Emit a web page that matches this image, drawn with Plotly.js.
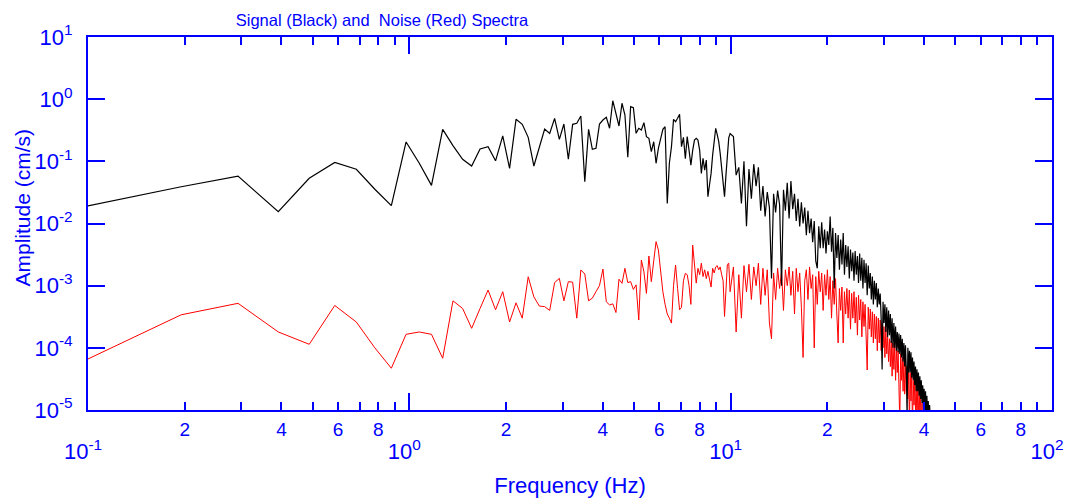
<!DOCTYPE html>
<html>
<head>
<meta charset="utf-8">
<script src="https://cdn.plot.ly/plotly-3.0.1.min.js"></script>
<style>
  html, body { margin: 0; padding: 0; background: #ffffff; }
  #chart { width: 1073px; height: 501px; }
</style>
</head>
<body>
<div id="chart"></div>
<script>
// ---- Data ----
const freqHz = [
  0.098, 0.195, 0.293, 0.391, 0.488, 0.586, 0.684, 0.781, 0.879, 0.977,
  1.074, 1.172, 1.270, 1.367, 1.465, 1.563, 1.660, 1.758, 1.855, 1.953,
  2.051, 2.148, 2.246, 2.344, 2.441, 2.539, 2.637, 2.734, 2.832, 2.930,
  3.027, 3.125, 3.223, 3.320, 3.418, 3.516, 3.613, 3.711, 3.809, 3.906,
  4.004, 4.102, 4.199, 4.297, 4.395, 4.492, 4.590, 4.688, 4.785, 4.883,
  4.980, 5.078, 5.176, 5.273, 5.371, 5.469, 5.566, 5.664, 5.762, 5.859,
  5.957, 6.055, 6.152, 6.250, 6.348, 6.445, 6.543, 6.641, 6.738, 6.836,
  6.934, 7.031, 7.129, 7.227, 7.324, 7.422, 7.520, 7.617, 7.715, 7.813,
  7.910, 8.008, 8.105, 8.203, 8.301, 8.398, 8.496, 8.594, 8.691, 8.789,
  8.887, 8.984, 9.082, 9.180, 9.277, 9.375, 9.473, 9.570, 9.668, 9.766,
  9.863, 9.961,
  10.2, 10.4, 10.6, 10.8, 11.0, 11.2, 11.4, 11.6, 11.8, 12.0,
  12.2, 12.4, 12.6, 12.8, 13.0, 13.2, 13.4, 13.6, 13.8, 14.0,
  14.2, 14.4, 14.6, 14.8, 15.0, 15.2, 15.4, 15.6, 15.8, 16.0,
  16.2, 16.4, 16.6, 16.8, 17.0, 17.2, 17.4, 17.6, 17.8, 18.0,
  18.2, 18.4, 18.6, 18.8, 19.0, 19.2, 19.4, 19.6, 19.8, 20.0,
  20.2, 20.4, 20.6, 20.8, 21.0, 21.2, 21.4, 21.6, 21.8, 22.0,
  22.2, 22.4, 22.6, 22.8, 23.0, 23.2, 23.4, 23.6, 23.8, 24.0,
  24.2, 24.4, 24.6, 24.8, 25.0, 25.2, 25.4, 25.6, 25.8, 26.0,
  26.2, 26.4, 26.6, 26.8, 27.0, 27.2, 27.4, 27.6, 27.8, 28.0,
  28.2, 28.4, 28.6, 28.8, 29.0, 29.2, 29.4, 29.6, 29.8, 30.0,
  30.2, 30.4, 30.6, 30.8, 31.0, 31.2, 31.4, 31.6, 31.8, 32.0,
  32.2, 32.4, 32.6, 32.8, 33.0, 33.2, 33.4, 33.6, 33.8, 34.0,
  34.2, 34.4, 34.6, 34.8, 35.0, 35.2, 35.4, 35.6, 35.8, 36.0,
  36.2, 36.4, 36.6, 36.8, 37.0, 37.2, 37.4, 37.6, 37.8, 38.0,
  38.2, 38.4, 38.6, 38.8, 39.0, 39.2, 39.4, 39.6, 39.8, 40.0,
  40.2, 40.4, 40.6, 40.8, 41.0, 41.2, 41.4, 41.6, 41.8, 42.0
];

const signalAmp = [
  0.0188, 0.039, 0.058, 0.0155, 0.0533, 0.096, 0.0745, 0.0356, 0.0194, 0.205,
  0.093, 0.041, 0.327, 0.179, 0.108, 0.084, 0.158, 0.172, 0.102, 0.256,
  0.077, 0.474, 0.394, 0.243, 0.084, 0.172, 0.331, 0.282, 0.492, 0.226,
  0.398, 0.108, 0.394, 0.409, 0.536, 0.047, 0.327, 0.156, 0.162, 0.398,
  0.462, 0.51, 0.34, 0.944, 0.556, 0.37, 0.859, 0.556, 0.116, 0.758,
  0.73, 0.282, 0.34, 0.319, 0.419, 0.249, 0.234, 0.143, 0.207, 0.093,
  0.162, 0.226, 0.327, 0.36, 0.021, 0.093, 0.172, 0.474, 0.434, 0.492,
  0.571, 0.172, 0.243, 0.11, 0.25, 0.15, 0.087, 0.15, 0.22, 0.234,
  0.22, 0.15, 0.064, 0.112, 0.072, 0.105, 0.027, 0.042, 0.064, 0.127,
  0.22, 0.34, 0.27, 0.207, 0.134, 0.072, 0.042, 0.027, 0.06, 0.15,
  0.238, 0.28,
  0.25, 0.06, 0.08, 0.021, 0.1,
  0.009, 0.075, 0.025, 0.09, 0.04,
  0.08, 0.016, 0.04, 0.013, 0.032,
  0.018, 0.0013, 0.03, 0.015, 0.034,
  0.02, 0.001, 0.035, 0.016, 0.045,
  0.012, 0.048, 0.017, 0.03, 0.011,
  0.025, 0.009, 0.022, 0.01, 0.018,
  0.0065, 0.016, 0.007, 0.012, 0.005,
  0.011, 0.0025, 0.0019, 0.009, 0.004,
  0.0105, 0.004, 0.008, 0.0033, 0.0075,
  0.0045, 0.013, 0.0035, 0.0085, 0.0009,
  0.007, 0.0028, 0.0065, 0.0018, 0.0055,
  0.0022, 0.007, 0.0015, 0.0045, 0.002,
  0.0043, 0.0013, 0.0038, 0.0017, 0.0034,
  0.0012, 0.0036, 0.0015, 0.003, 0.0011,
  0.0033, 0.0012, 0.0028, 0.0009, 0.0026,
  0.0011, 0.0023, 0.0007, 0.0021, 0.0009,
  0.0016, 0.0006, 0.0014, 0.0005, 0.0012,
  0.0006, 0.0011, 0.00045, 0.0009, 0.0005,
  0.00075, 0.0003, 0.000045, 0.00055, 0.00025,
  0.0005, 0.00018, 0.00045, 0.00015, 0.0004,
  0.00016, 0.00035, 0.00012, 0.0003, 0.0001,
  0.00025, 0.0001, 0.00022, 0.00009, 0.00018,
  0.000085, 0.00017, 0.00008, 0.00016, 0.00007,
  0.00014, 0.00006, 0.00012, 0.00005, 0.00011,
  0.000045, 0.000008, 0.0001, 0.00004, 0.00009,
  0.00004, 0.000085, 0.000033, 0.00007, 0.00003,
  0.00006, 0.000025, 0.00005, 0.00002, 0.000045,
  0.00002, 0.00004, 0.000017, 0.000035, 0.000015,
  0.00003, 0.000013, 0.000025, 0.000011, 0.000022,
  0.000009, 0.00002, 0.000008, 0.000017, 0.000007,
  0.000014, 0.000006, 0.000012, 0.000005, 0.000004
];

const noiseAmp = [
  6.3e-5, 3.4e-4, 5.2e-4, 1.8e-4, 1.14e-4, 4.8e-4, 2.6e-4, 1.0e-4, 4.7e-5, 1.65e-4,
  1.8e-4, 1.65e-4, 6.8e-5, 5.7e-4, 4.3e-4, 2.06e-4, 4.3e-4, 8.5e-4, 4.1e-4, 8.0e-4,
  2.6e-4, 5.3e-4, 3.0e-4, 1.39e-3, 6.6e-4, 4.7e-4, 4.6e-4, 4.0e-4, 1.12e-3, 1.31e-3,
  5.7e-4, 1.16e-3, 1.14e-3, 3.0e-4, 1.79e-3, 1.54e-3, 5.7e-4, 6.3e-4, 8.0e-4, 1.0e-3,
  1.85e-3, 5.5e-4, 4.9e-4, 5.1e-4, 3.7e-4, 1.27e-3, 1.09e-3, 1.9e-3, 1.12e-3, 1.16e-3,
  8.7e-4, 1.03e-3, 2.8e-4, 2.59e-3, 1.68e-3, 7.5e-4, 3.0e-3, 1.16e-3, 2.5e-3, 5.1e-3,
  3.75e-3, 1.5e-3, 8.0e-4, 5.0e-4, 3.5e-4, 3.0e-4, 2.5e-4, 1.0e-3, 2.15e-3, 9.0e-4,
  4.1e-4, 4.5e-4, 1.2e-3, 1.58e-3, 1.5e-3, 1.0e-3, 5.0e-4, 4.5e-3, 2.0e-3, 1.1e-3,
  1.9e-3, 1.5e-3, 2.3e-3, 1.4e-3, 1.8e-3, 1.3e-3, 1.7e-3, 1.2e-3, 9.5e-4, 1.9e-3,
  1.6e-3, 2.0e-3, 2.1e-3, 1.8e-3, 2.0e-3, 1.5e-3, 1.2e-3, 3.2e-4, 1.0e-3, 2.2e-3,
  2.3e-3, 8.0e-4,
  2.0e-3, 1.8e-4, 1.5e-3, 3.0e-4, 2.1e-3,
  8.0e-4, 2.2e-3, 6.0e-4, 2.0e-3, 1.0e-3,
  2.3e-3, 5.0e-4, 1.9e-3, 7.0e-4, 1.8e-3,
  2.5e-4, 1.4e-4, 1.6e-3, 6.0e-4, 1.9e-3,
  9.0e-4, 1.7e-3, 4.0e-4, 1.8e-3, 1.0e-3,
  2.0e-3, 7.0e-4, 1.7e-3, 3.5e-4, 1.9e-3,
  8.0e-4, 1.6e-3, 4.5e-4, 7.0e-5, 1.2e-3,
  1.8e-3, 6.0e-4, 2.0e-3, 9.0e-4, 1.5e-3,
  1.0e-4, 1.4e-3, 5.0e-4, 1.7e-3, 8.0e-4,
  1.6e-3, 4.0e-4, 1.5e-3, 7.0e-4, 1.8e-3,
  6.0e-4, 1.4e-3, 3.0e-4, 1.2e-3, 5.0e-4,
  1.3e-3, 3.5e-4, 1.2e-4, 9.0e-4, 4.0e-4,
  9.5e-4, 1.2e-4, 8.0e-4, 3.5e-4, 9.0e-4,
  3.0e-4, 8.5e-4, 2.0e-4, 7.5e-4, 3.0e-4,
  8.0e-4, 2.5e-4, 6.5e-4, 1.6e-4, 7.0e-4,
  2.8e-4, 6.0e-4, 1.5e-4, 5.5e-4, 2.2e-4,
  5.0e-4, 1.8e-4, 4.4e-5, 4.5e-4, 2.0e-4,
  4.2e-4, 1.5e-4, 3.8e-4, 1.2e-4, 3.5e-4,
  1.4e-4, 3.2e-4, 9.0e-5, 3.0e-4, 1.2e-4,
  2.8e-4, 9.0e-5, 2.5e-4, 1.0e-4, 2.2e-4,
  7.0e-5, 2.0e-4, 8.0e-5, 1.5e-4, 6.0e-5,
  1.4e-4, 5.0e-5, 1.3e-4, 3.5e-5, 1.2e-4,
  4.5e-5, 1.1e-4, 3.0e-5, 1.0e-4, 4.0e-5,
  9.0e-5, 2.5e-5, 6.0e-6, 8.0e-5, 3.0e-5,
  7.0e-5, 2.0e-5, 6.0e-5, 1.8e-5, 5.5e-5,
  2.0e-5, 5.0e-5, 1.5e-5, 4.5e-5, 6.0e-6,
  4.0e-5, 1.4e-5, 3.5e-5, 5.0e-6, 3.0e-5,
  1.2e-5, 2.8e-5, 1.0e-5, 2.5e-5, 6.0e-6,
  2.2e-5, 8.0e-6, 2.0e-5, 9.0e-6, 1.6e-5,
  6.0e-6, 1.3e-5, 5.0e-6, 1.1e-5, 4.0e-6
];

const xDecadeVals = [0.1, 1, 10, 100];
const xDecadeText = ['10<sup>-1</sup>', '10<sup>0</sup>', '10<sup>1</sup>', '10<sup>2</sup>'];
const xMinorVals = [0.2, 0.3, 0.4, 0.5, 0.6, 0.7, 0.8, 0.9,
                    2, 3, 4, 5, 6, 7, 8, 9,
                    20, 30, 40, 50, 60, 70, 80, 90];
const xMinorLabelVals = [0.2, 0.4, 0.6, 0.8, 2, 4, 6, 8, 20, 40, 60, 80];
const xMinorLabelText = ['2', '4', '6', '8', '2', '4', '6', '8', '2', '4', '6', '8'];
const yTickVals = [1e-5, 1e-4, 1e-3, 1e-2, 1e-1, 1, 10];
const yTickText = ['10<sup>-5</sup>', '10<sup>-4</sup>', '10<sup>-3</sup>', '10<sup>-2</sup>',
                   '10<sup>-1</sup>', '10<sup>0</sup>', '10<sup>1</sup>'];

const chartTitle = 'Signal (Black) and\u00a0 Noise (Red) Spectra';
const xTitle = 'Frequency (Hz)';
const yTitle = 'Amplitude (cm/s)';

// ---- Drawing ----
const BLUE = '#0000ff';
const W = 1073, H = 501;
const M = {l: 88, r: 21, t: 37, b: 91};

const traces = [
  {
    x: freqHz.slice(0, noiseAmp.length), y: noiseAmp,
    type: 'scatter', mode: 'lines', xaxis: 'x', yaxis: 'y',
    line: {color: '#ff0000', width: 1},
    hoverinfo: 'skip'
  },
  {
    x: freqHz, y: signalAmp,
    type: 'scatter', mode: 'lines', xaxis: 'x2', yaxis: 'y',
    line: {color: '#000000', width: 1.2},
    hoverinfo: 'skip'
  }
];

const sansFont = 'Liberation Sans, Arial, Helvetica, sans-serif';

const layout = {
  width: W, height: H,
  margin: M,
  paper_bgcolor: '#ffffff',
  plot_bgcolor: '#ffffff',
  showlegend: false,
  font: {family: sansFont, color: BLUE, size: 18},
  title: {
    text: chartTitle,
    xref: 'container', yref: 'container',
    x: 382 / W, xanchor: 'center',
    y: 1 - 20 / H, yanchor: 'middle',
    font: {family: sansFont, size: 16.5, color: BLUE}
  },
  xaxis: {
    type: 'log', range: [-1, 2], autorange: false,
    tickmode: 'array', tickvals: xDecadeVals, ticktext: xDecadeText,
    ticks: 'inside', ticklen: 17, tickwidth: 2, tickcolor: BLUE,
    showline: true, linecolor: BLUE, linewidth: 2, mirror: 'ticks',
    showgrid: false, zeroline: false,
    tickfont: {family: sansFont, size: 22, color: BLUE},
    ticklabelstandoff: 21, ticklabelshift: -5,
    minor: {tickmode: 'array', tickvals: xMinorVals, ticks: 'inside',
            ticklen: 8, tickwidth: 2, tickcolor: BLUE, showgrid: false},
    title: {text: xTitle, font: {family: sansFont, size: 22, color: BLUE}, standoff: 14},
    automargin: false
  },
  xaxis2: {
    type: 'log', range: [-1, 2], autorange: false,
    overlaying: 'x', anchor: 'y', side: 'bottom',
    tickmode: 'array', tickvals: xMinorLabelVals, ticktext: xMinorLabelText,
    ticks: '', showline: false, showgrid: false, zeroline: false,
    tickfont: {family: sansFont, size: 19, color: BLUE},
    ticklabelstandoff: 6,
    automargin: false
  },
  yaxis: {
    type: 'log', range: [-5, 1], autorange: false,
    tickmode: 'array', tickvals: yTickVals, ticktext: yTickText,
    ticks: 'inside', ticklen: 17, tickwidth: 2, tickcolor: BLUE,
    showline: true, linecolor: BLUE, linewidth: 2, mirror: 'ticks',
    showgrid: false, zeroline: false,
    tickfont: {family: sansFont, size: 22, color: BLUE},
    ticklabelstandoff: 9,
    automargin: false
  },
  annotations: [
    {
      text: yTitle, xref: 'paper', yref: 'paper',
      x: (22 - M.l) / (W - M.l - M.r), y: (410 - 207.5) / (H - M.t - M.b),
      xanchor: 'center', yanchor: 'middle', textangle: -90, showarrow: false,
      font: {family: sansFont, size: 21, color: BLUE}
    }
  ]
};

Plotly.newPlot('chart', traces, layout, {staticPlot: true, displayModeBar: false});
</script>
</body>
</html>
